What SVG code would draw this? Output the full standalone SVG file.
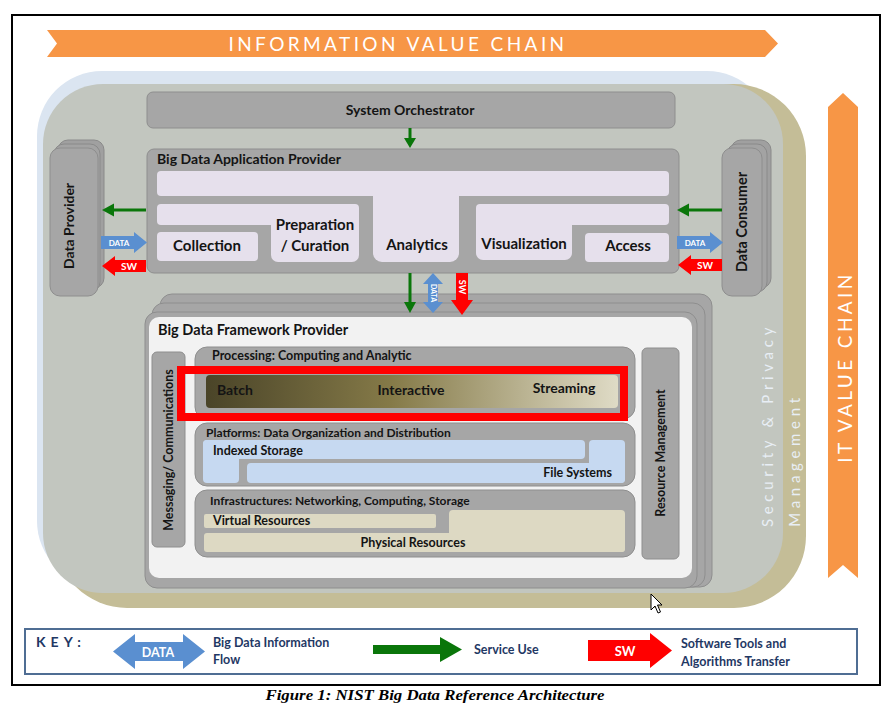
<svg xmlns="http://www.w3.org/2000/svg" width="893" height="712" viewBox="0 0 893 712">
<defs>
<style>
.t{font-family:Lato,"Open Sans","Liberation Sans",sans-serif;font-weight:bold;fill:#141414}
.box{fill:#A6A6A6;stroke:#8E8E8E;stroke-width:1}
.lav{fill:#E6E0EC}
.blu{fill:#C6D9F1}
.tan{fill:#DDD9C3}
.key{font-family:Lato,"Open Sans","Liberation Sans",sans-serif;font-weight:bold;fill:#1F3864;font-size:12.5px}
.wt{font-family:Lato,"Open Sans","Liberation Sans",sans-serif;font-weight:bold;fill:#FFFFFF}
.grn{fill:#0A760A}
.dat{fill:#5A8FD0}
.sw{fill:#FF0000}
.chain{font-family:Lato,"Open Sans","Liberation Sans",sans-serif;font-size:19px;letter-spacing:3.4px;fill:#FFFFFF}
</style>
<linearGradient id="proc" x1="0" y1="0" x2="1" y2="0">
<stop offset="0" stop-color="#4A4428"/>
<stop offset="0.45" stop-color="#857A48"/>
<stop offset="1" stop-color="#DFDBC6"/>
</linearGradient>
</defs>
<rect x="0" y="0" width="893" height="712" fill="#FFFFFF"/>
<rect x="12" y="15" width="868" height="670" fill="#FFFFFF" stroke="#000000" stroke-width="2"/>

<g id="information-value-chain">
<polygon points="47,30 765,30 778,43.5 765,57 47,57 57,43.5" fill="#F79646"/>
<text class="chain" x="398" y="51" text-anchor="middle">INFORMATION VALUE CHAIN</text>
</g>

<g id="it-value-chain">
<polygon points="843,93 858,107 858,578 843,565 828,578 828,107" fill="#F79646"/>
<text class="chain" transform="translate(851.5,367) rotate(-90)" text-anchor="middle">IT VALUE CHAIN</text>
</g>

<g id="security-privacy-management">
<rect x="37" y="71" width="735" height="515" rx="65" fill="#DBE5F1"/>
<rect x="55" y="84" width="751" height="524" rx="72" fill="#C4BD97"/>
<rect x="43" y="84" width="740" height="509" rx="60" fill="#C2C6BF"/>
<text transform="translate(773,425) rotate(-90)" text-anchor="middle" font-family="Lato,'Open Sans','Liberation Sans',sans-serif" font-size="15" letter-spacing="4.7" fill="#E8EEF5">Security &amp; Privacy</text>
<text transform="translate(800,460) rotate(-90)" text-anchor="middle" font-family="Lato,'Open Sans','Liberation Sans',sans-serif" font-size="15" letter-spacing="4.7" fill="#E8EEF5">Management</text>
</g>

<g id="system-orchestrator">
<rect class="box" x="147" y="92" width="528" height="36" rx="6"/>
<text class="t" x="410" y="115" text-anchor="middle" font-size="14">System Orchestrator</text>
</g>

<g id="data-provider">
<rect x="58" y="140" width="46" height="148" rx="10" fill="#A0A0A0" stroke="#8A8A8A"/>
<rect x="54" y="144" width="46" height="148" rx="10" fill="#A3A3A3" stroke="#8A8A8A"/>
<rect class="box" x="50" y="148" width="48" height="148" rx="10"/>
<text class="t" transform="translate(74,226) rotate(-90)" text-anchor="middle" font-size="14">Data Provider</text>
</g>

<g id="data-consumer">
<rect x="731" y="140" width="40" height="148" rx="10" fill="#A0A0A0" stroke="#8A8A8A"/>
<rect x="727" y="144" width="40" height="148" rx="10" fill="#A3A3A3" stroke="#8A8A8A"/>
<rect class="box" x="722" y="148" width="40" height="148" rx="10"/>
<text class="t" transform="translate(747,222) rotate(-90)" text-anchor="middle" font-size="14.5">Data Consumer</text>
</g>

<g id="application-provider">
<rect class="box" x="147" y="149" width="532" height="124" rx="7"/>
<text class="t" x="157" y="164" font-size="14">Big Data Application Provider</text>
<rect class="lav" x="157" y="171" width="512" height="25" rx="4"/>
<rect class="lav" x="157" y="204" width="202" height="21" rx="4"/>
<rect class="lav" x="271" y="204" width="88" height="58" rx="7"/>
<rect class="lav" x="157" y="232" width="101" height="29" rx="4"/>
<rect class="lav" x="373" y="180" width="86" height="82" rx="9"/>
<rect class="lav" x="476" y="204" width="193" height="21" rx="4"/>
<rect class="lav" x="476" y="204" width="96" height="56" rx="7"/>
<rect class="lav" x="585" y="233" width="84" height="29" rx="4"/>
<text class="t" x="207" y="251" text-anchor="middle" font-size="15">Collection</text>
<text class="t" x="315" y="230" text-anchor="middle" font-size="15">Preparation</text>
<text class="t" x="315" y="251" text-anchor="middle" font-size="15">/ Curation</text>
<text class="t" x="417" y="250" text-anchor="middle" font-size="15">Analytics</text>
<text class="t" x="524" y="249" text-anchor="middle" font-size="15">Visualization</text>
<text class="t" x="628" y="251" text-anchor="middle" font-size="15">Access</text>
</g>

<g id="framework-provider">
<rect class="box" x="160" y="294" width="552" height="293" rx="12"/>
<rect class="box" x="152" y="303" width="553" height="284" rx="12"/>
<rect class="box" x="145" y="312" width="552" height="276" rx="12"/>
<rect x="149" y="317" width="543" height="261" rx="10" fill="#F2F2F2"/>
<text class="t" x="158" y="335" font-size="14.5">Big Data Framework Provider</text>
</g>

<g id="messaging-communications">
<rect class="box" x="152" y="352" width="33" height="195" rx="5"/>
<text class="t" transform="translate(172.5,450) rotate(-90)" text-anchor="middle" font-size="12.5">Messaging/ Communications</text>
</g>

<g id="resource-management">
<rect class="box" x="642" y="348" width="37" height="211" rx="5"/>
<text class="t" transform="translate(664.5,453) rotate(-90)" text-anchor="middle" font-size="12.5">Resource Management</text>
</g>

<g id="processing">
<rect class="box" x="195" y="347" width="440" height="72" rx="12"/>
<text class="t" x="212" y="360" font-size="12.5">Processing: Computing and Analytic</text>
<rect x="206" y="375" width="412" height="33" rx="4" fill="url(#proc)"/>
<text class="t" x="217" y="395" font-size="14">Batch</text>
<text class="t" x="411" y="395" text-anchor="middle" font-size="14">Interactive</text>
<text class="t" x="564" y="393" text-anchor="middle" font-size="14">Streaming</text>
<rect x="181" y="370" width="443" height="47" fill="none" stroke="#FF0000" stroke-width="8"/>
</g>

<g id="platforms">
<rect class="box" x="195" y="423" width="440" height="63" rx="12"/>
<text class="t" x="206" y="437" font-size="12">Platforms: Data Organization and Distribution</text>
<rect class="blu" x="203" y="440" width="382" height="19" rx="4"/>
<rect class="blu" x="203" y="440" width="36" height="43" rx="4"/>
<rect class="blu" x="247" y="463" width="378" height="20" rx="4"/>
<rect class="blu" x="589" y="440" width="36" height="43" rx="4"/>
<text class="t" x="213" y="455" font-size="12.5">Indexed Storage</text>
<text class="t" x="612" y="477" text-anchor="end" font-size="12.5">File Systems</text>
</g>

<g id="infrastructures">
<rect class="box" x="195" y="490" width="440" height="67" rx="12"/>
<text class="t" x="210" y="505" font-size="12">Infrastructures: Networking, Computing, Storage</text>
<rect class="tan" x="204" y="514" width="232" height="14" rx="2"/>
<rect class="tan" x="204" y="533" width="421" height="19" rx="3"/>
<rect class="tan" x="449" y="510" width="176" height="42" rx="4"/>
<text class="t" x="213" y="525" font-size="12.5">Virtual Resources</text>
<text class="t" x="413" y="547" text-anchor="middle" font-size="12.5">Physical Resources</text>
</g>

<g id="connectors">
<line x1="410" y1="128" x2="410" y2="139" stroke="#0A760A" stroke-width="3"/>
<polygon class="grn" points="404,138 416,138 410,148"/>
<line x1="146" y1="210" x2="112" y2="210" stroke="#0A760A" stroke-width="3"/>
<polygon class="grn" points="102,210 114,203.5 114,216.5"/>
<polygon class="dat" points="101,236 134,236 134,232 147,242.5 134,253 134,249 101,249"/>
<text class="wt" x="119" y="245.5" text-anchor="middle" font-size="8">DATA</text>
<polygon class="sw" points="102,266 115,256 115,260 146,260 146,272 115,272 115,276"/>
<text class="wt" x="129" y="270" text-anchor="middle" font-size="10">SW</text>
<line x1="722" y1="210" x2="687" y2="210" stroke="#0A760A" stroke-width="3"/>
<polygon class="grn" points="677,210 689,203.5 689,216.5"/>
<polygon class="dat" points="677,236 710,236 710,232 723,242.5 710,253 710,249 677,249"/>
<text class="wt" x="695" y="245.5" text-anchor="middle" font-size="8">DATA</text>
<polygon class="sw" points="678,265 691,255 691,259 722,259 722,271 691,271 691,275"/>
<text class="wt" x="705" y="269" text-anchor="middle" font-size="10">SW</text>
<line x1="410" y1="273" x2="410" y2="304" stroke="#0A760A" stroke-width="3"/>
<polygon class="grn" points="404,302 416,302 410,313"/>
<polygon class="dat" points="433,273 443,284 438,284 438,302 443,302 433,313 423,302 428,302 428,284 423,284"/>
<text class="wt" transform="translate(430.5,293) rotate(90)" text-anchor="middle" font-size="7">DATA</text>
<polygon class="sw" points="456,273 468,273 468,300 473,300 462,315 451,300 456,300"/>
<text class="wt" transform="translate(459,287) rotate(90)" text-anchor="middle" font-size="9">SW</text>
</g>

<polygon points="651,594 651,610 655,606 658,613 660.5,612 657.5,605 662,605" fill="#FFFFFF" stroke="#000000" stroke-width="1"/>

<g id="key">
<rect x="25" y="629" width="832" height="45" fill="#FFFFFF" stroke="#4F6D93" stroke-width="2"/>
<text x="36" y="647" font-family="Lato,'Open Sans','Liberation Sans',sans-serif" font-weight="bold" font-size="14" letter-spacing="5" fill="#1F3864">KEY:</text>
<polygon class="dat" points="113,651.5 135,634 135,642 183,642 183,634 205,651.5 183,669 183,661 135,661 135,669"/>
<text class="wt" x="158" y="656.5" text-anchor="middle" font-size="12.5">DATA</text>
<text class="key" x="213" y="647">Big Data Information</text>
<text class="key" x="213" y="664">Flow</text>
<polygon class="grn" points="373,645 440,645 440,637 462,649.5 440,662 440,654 373,654"/>
<text class="key" x="474" y="654">Service Use</text>
<polygon class="sw" points="588,640 650,640 650,633 672,650.5 650,668 650,661 588,661"/>
<text class="wt" x="625" y="655.5" text-anchor="middle" font-size="13">SW</text>
<text class="key" x="681" y="648">Software Tools and</text>
<text class="key" x="681" y="666">Algorithms Transfer</text>
</g>

<text x="435" y="700" text-anchor="middle" font-family="'Liberation Serif','Times New Roman',serif" font-weight="bold" font-style="italic" font-size="15" textLength="339" lengthAdjust="spacingAndGlyphs" fill="#000000">Figure 1: NIST Big Data Reference Architecture</text>
</svg>
